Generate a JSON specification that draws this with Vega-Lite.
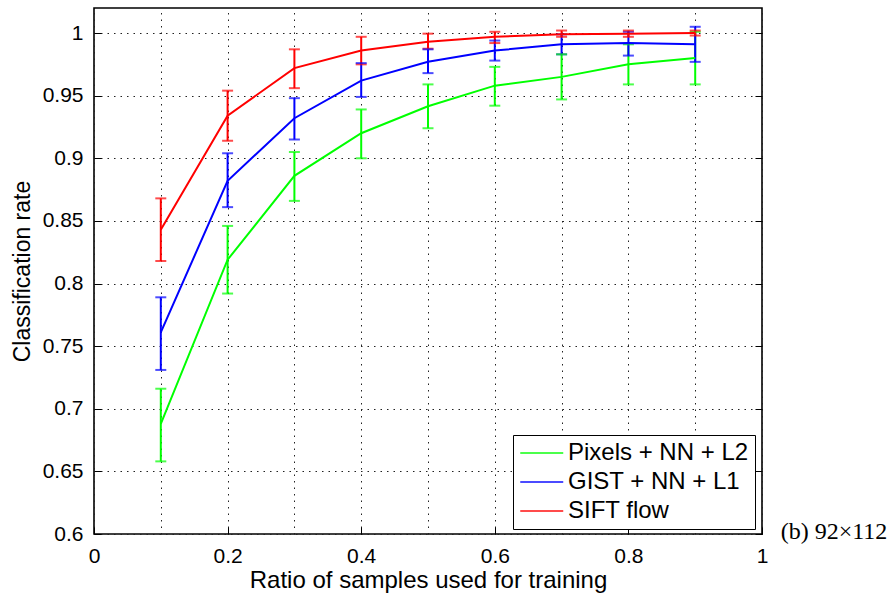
{
  "$schema": "https://vega.github.io/schema/vega-lite/v6.json",
  "width": 668,
  "height": 526,
  "autosize": {"type": "none"},
  "padding": {"left": 94, "top": 8, "right": 129, "bottom": 61},
  "background": "white",
  "config": {
    "font": "Liberation Sans",
    "view": {"stroke": "black", "strokeWidth": 1.6},
    "axis": {
      "labelFont": "Liberation Sans",
      "labelFontSize": 21,
      "labelColor": "black",
      "labelFlush": false,
      "labelOverlap": false,
      "titleFont": "Liberation Sans",
      "titleFontSize": 23,
      "titleFontWeight": "normal",
      "titleColor": "black",
      "domain": false,
      "tickColor": "black",
      "tickWidth": 1,
      "gridColor": "#222222",
      "gridDash": [1.5, 5],
      "gridWidth": 1,
      "gridOpacity": 1
    }
  },
  "data": {
    "values": [
      {"method": "Pixels + NN + L2", "ratio": 0.1, "rate": 0.688, "lo": 0.658, "hi": 0.716},
      {"method": "Pixels + NN + L2", "ratio": 0.2, "rate": 0.819, "lo": 0.792, "hi": 0.846},
      {"method": "Pixels + NN + L2", "ratio": 0.3, "rate": 0.886, "lo": 0.866, "hi": 0.905},
      {"method": "Pixels + NN + L2", "ratio": 0.4, "rate": 0.92, "lo": 0.9, "hi": 0.939},
      {"method": "Pixels + NN + L2", "ratio": 0.5, "rate": 0.9415, "lo": 0.924, "hi": 0.959},
      {"method": "Pixels + NN + L2", "ratio": 0.6, "rate": 0.958, "lo": 0.942, "hi": 0.973},
      {"method": "Pixels + NN + L2", "ratio": 0.7, "rate": 0.965, "lo": 0.947, "hi": 0.983},
      {"method": "Pixels + NN + L2", "ratio": 0.8, "rate": 0.975, "lo": 0.959, "hi": 0.991},
      {"method": "Pixels + NN + L2", "ratio": 0.9, "rate": 0.98, "lo": 0.959, "hi": 1.001},
      {"method": "GIST + NN + L1", "ratio": 0.1, "rate": 0.761, "lo": 0.731, "hi": 0.789},
      {"method": "GIST + NN + L1", "ratio": 0.2, "rate": 0.882, "lo": 0.861, "hi": 0.904},
      {"method": "GIST + NN + L1", "ratio": 0.3, "rate": 0.932, "lo": 0.915, "hi": 0.948},
      {"method": "GIST + NN + L1", "ratio": 0.4, "rate": 0.962, "lo": 0.949, "hi": 0.976},
      {"method": "GIST + NN + L1", "ratio": 0.5, "rate": 0.977, "lo": 0.968, "hi": 0.987},
      {"method": "GIST + NN + L1", "ratio": 0.6, "rate": 0.986, "lo": 0.978, "hi": 0.994},
      {"method": "GIST + NN + L1", "ratio": 0.7, "rate": 0.991, "lo": 0.983, "hi": 0.999},
      {"method": "GIST + NN + L1", "ratio": 0.8, "rate": 0.992, "lo": 0.982, "hi": 1.001},
      {"method": "GIST + NN + L1", "ratio": 0.9, "rate": 0.991, "lo": 0.977, "hi": 1.005},
      {"method": "SIFT flow", "ratio": 0.1, "rate": 0.843, "lo": 0.818, "hi": 0.868},
      {"method": "SIFT flow", "ratio": 0.2, "rate": 0.934, "lo": 0.914, "hi": 0.954},
      {"method": "SIFT flow", "ratio": 0.3, "rate": 0.972, "lo": 0.956, "hi": 0.987},
      {"method": "SIFT flow", "ratio": 0.4, "rate": 0.986, "lo": 0.975, "hi": 0.997},
      {"method": "SIFT flow", "ratio": 0.5, "rate": 0.993, "lo": 0.9875, "hi": 0.9995},
      {"method": "SIFT flow", "ratio": 0.6, "rate": 0.997, "lo": 0.992, "hi": 1.001},
      {"method": "SIFT flow", "ratio": 0.7, "rate": 0.999, "lo": 0.997, "hi": 1.002},
      {"method": "SIFT flow", "ratio": 0.8, "rate": 0.9995, "lo": 0.997, "hi": 1.002},
      {"method": "SIFT flow", "ratio": 0.9, "rate": 1.0, "lo": 0.998, "hi": 1.002}
    ]
  },
  "resolve": {"axis": {"x": "independent", "y": "independent"}},
  "layer": [
    {
      "encoding": {
        "x": {
          "field": "ratio",
          "type": "quantitative",
          "scale": {"domain": [0, 1], "nice": false, "zero": false},
          "axis": {
            "orient": "bottom",
            "values": [0, 0.2, 0.4, 0.6, 0.8, 1],
            "format": "~g",
            "grid": false,
            "tickSize": -7,
            "labelPadding": 18,
            "title": "Ratio of samples used for training",
            "titleFontSize": 24,
            "titlePadding": 2
          }
        },
        "y": {
          "field": "rate",
          "type": "quantitative",
          "scale": {"domain": [0.6, 1.02], "nice": false, "zero": false},
          "axis": {
            "orient": "left",
            "values": [0.6, 0.65, 0.7, 0.75, 0.8, 0.85, 0.9, 0.95, 1],
            "format": "~g",
            "grid": true,
            "tickSize": -7,
            "labelPadding": 18,
            "title": "Classification rate",
            "titlePadding": 8
          }
        },
        "color": {
          "field": "method",
          "type": "nominal",
          "scale": {
            "domain": ["Pixels + NN + L2", "GIST + NN + L1", "SIFT flow"],
            "range": ["#00ff00", "#0000ff", "#ff0000"]
          },
          "legend": {
            "orient": "none",
            "legendX": 419,
            "legendY": 427,
            "title": null,
            "direction": "vertical",
            "strokeColor": "black",
            "fillColor": "white",
            "padding": 6,
            "rowPadding": 5,
            "labelFont": "Liberation Sans",
            "labelFontSize": 24,
            "labelColor": "black",
            "labelLimit": 400,
            "labelOffset": 25,
            "symbolType": "M-1,0H3",
            "symbolSize": 462,
            "symbolStrokeWidth": 2,
            "symbolFillColor": "transparent"
          }
        }
      },
      "layer": [
        {
          "mark": {"type": "rule", "strokeWidth": 2},
          "encoding": {"y": {"field": "lo", "type": "quantitative"}, "y2": {"field": "hi"}}
        },
        {
          "mark": {"type": "tick", "orient": "horizontal", "size": 11, "thickness": 2},
          "encoding": {"y": {"field": "lo", "type": "quantitative"}}
        },
        {
          "mark": {"type": "tick", "orient": "horizontal", "size": 11, "thickness": 2},
          "encoding": {"y": {"field": "hi", "type": "quantitative"}}
        },
        {
          "mark": {"type": "line", "strokeWidth": 2}
        },
        {
          "data": {"values": [{"caption": "(b) 92×112", "cx": 1.028, "cy": 0.6016}]},
          "mark": {"type": "text", "align": "left", "baseline": "middle", "font": "Liberation Serif", "fontSize": 24, "color": "black", "clip": false},
          "encoding": {
            "x": {"field": "cx", "type": "quantitative"},
            "y": {"field": "cy", "type": "quantitative"},
            "text": {"field": "caption"},
            "color": {"value": "black"}
          }
        }
      ]
    },
    {
      "mark": {"type": "point", "opacity": 0},
      "encoding": {
        "x": {
          "field": "ratio",
          "type": "quantitative",
          "scale": {"domain": [0, 1], "nice": false, "zero": false},
          "axis": {
            "orient": "top",
            "values": [0, 0.1, 0.2, 0.3, 0.4, 0.5, 0.6, 0.7, 0.8, 0.9, 1],
            "grid": true,
            "ticks": false,
            "labels": false,
            "title": null
          }
        },
        "y": {
          "field": "rate",
          "type": "quantitative",
          "scale": {"domain": [0.6, 1.02], "nice": false, "zero": false},
          "axis": {
            "orient": "right",
            "values": [0.6, 0.65, 0.7, 0.75, 0.8, 0.85, 0.9, 0.95, 1],
            "grid": false,
            "tickSize": -7,
            "labels": false,
            "title": null
          }
        }
      }
    }
  ]
}
